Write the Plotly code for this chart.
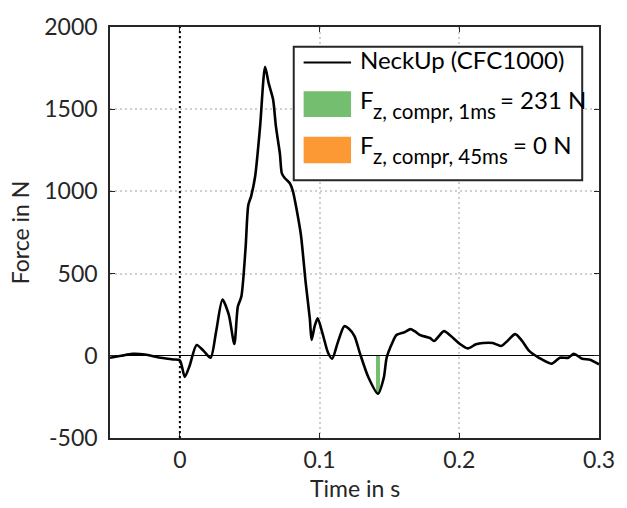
import plotly.graph_objects as go

# Upper neck axial force, CFC1000 filtered
time_s = [
    -0.050, -0.042, -0.034, -0.025, -0.015, -0.005, 0.000, 0.0035, 0.007, 0.012,
    0.017, 0.022, 0.026, 0.0305, 0.035, 0.039, 0.0415, 0.044, 0.047, 0.049,
    0.051, 0.0539, 0.0574, 0.061, 0.0635, 0.0667, 0.0688, 0.0716, 0.0730, 0.0752,
    0.0787, 0.0809, 0.0840, 0.0867, 0.090, 0.093, 0.0943, 0.0965, 0.0986, 0.102,
    0.106, 0.109, 0.113, 0.1177, 0.121, 0.125, 0.129, 0.135, 0.1418, 0.146,
    0.148, 0.152, 0.155, 0.161, 0.165, 0.168, 0.172, 0.179, 0.182, 0.189,
    0.194, 0.200, 0.206, 0.212, 0.217, 0.224, 0.230, 0.235, 0.240, 0.245,
    0.250, 0.257, 0.266, 0.272, 0.278, 0.282, 0.288, 0.2936, 0.300,
]
force_n = [
    -12, 0, 12, 8, -10, -22, -28, -128, -60, 66,
    30, -12, 150, 342, 250, 72, 300, 360, 650, 918,
    970, 1092, 1392, 1758, 1660, 1560, 1392, 1230, 1110, 1080,
    1050, 1002, 870, 732, 450, 228, 96, 180, 228, 140,
    20, -18, 80, 180, 165, 120, 12, -132, -231, -132,
    -12, 78, 126, 144, 162, 150, 126, 108, 90, 150,
    120, 75, 45, 70, 78, 78, 60, 95, 132, 90,
    30, -12, -48, -12, -12, 12, -18, -24, -52,
]

# Compression criteria (exceedance values)
crit_names = ["1ms", "45ms"]
crit_values = [231, 0]
crit_times = [0.1418, 0.1418]
crit_colors = ["#74BF6F", "#FD9934"]

x_ticks = [0, 0.1, 0.2, 0.3]
x_tick_text = ["0", "0.1", "0.2", "0.3"]
y_ticks = [-500, 0, 500, 1000, 1500, 2000]
y_tick_text = ["-500", "0", "500", "1000", "1500", "2000"]

W, H = 627, 508
M_L, M_R, M_T, M_B = 110, 22, 22, 70
PW, PH = W - M_L - M_R, H - M_T - M_B
TXT = "#262626"
FONT = "Lato"


def px(x):
    return (x - M_L) / PW


def py(y):
    return (H - M_B - y) / PH


fig = go.Figure()

for name, val, t, col in zip(crit_names, crit_values, crit_times, crit_colors):
    if val > 0:
        fig.add_trace(go.Bar(
            x=[t], y=[-val], base=0, width=0.003,
            marker=dict(color=col, line=dict(width=0)),
            showlegend=False, hoverinfo="skip",
        ))

fig.add_trace(go.Scatter(
    x=time_s, y=force_n, mode="lines",
    line=dict(color="black", width=2.6, shape="spline", smoothing=0.7),
    showlegend=False,
))

# t = 0 marker
fig.add_shape(type="line", xref="x", yref="paper", x0=0, x1=0, y0=0, y1=1,
              line=dict(color="black", width=2, dash="2px,3px"), layer="above")

# Legend box
lx0, lx1, ly0, ly1 = 296, 588, 42, 177
fig.add_shape(type="rect", xref="paper", yref="paper",
              x0=px(lx0), x1=px(lx1), y0=py(ly1), y1=py(ly0),
              line=dict(color=TXT, width=2), fillcolor="white", layer="above")
fig.add_shape(type="line", xref="paper", yref="paper",
              x0=px(306), x1=px(354), y0=py(58), y1=py(58),
              line=dict(color="black", width=2), layer="above")
for (ya, yb), col in zip([(87, 113), (133, 160)], crit_colors):
    fig.add_shape(type="rect", xref="paper", yref="paper",
                  x0=px(306), x1=px(354), y0=py(yb), y1=py(ya),
                  line=dict(width=0), fillcolor=col, layer="above")


def label(x, y, text, size=24):
    fig.add_annotation(xref="paper", yref="paper", x=px(x), y=py(y),
                       xanchor="left", yanchor="middle", text=text,
                       showarrow=False,
                       font=dict(family=FONT, size=size, color="black"))


label(361, 55, "NeckUp (CFC1000)")
for row, (name, val) in enumerate(zip(crit_names, crit_values)):
    yc = 95 + row * 46
    label(361, yc, "F")
    label(374, yc + 12, f"z, compr, {name}", size=20.5)
    xr = 503 if name == "1ms" else 516
    label(xr, yc, f"= {val} N")

# x-axis title
fig.add_annotation(xref="paper", yref="paper", x=0.5, y=py(489),
                   xanchor="center", yanchor="middle", text="Time in s",
                   showarrow=False, font=dict(family=FONT, size=23, color=TXT))

axis_common = dict(
    showline=True, mirror="ticks", linecolor=TXT, linewidth=1.5,
    ticks="inside", ticklen=5, tickcolor=TXT, tickwidth=1.2,
    showgrid=True, gridcolor="#cfcfcf", gridwidth=1.5, griddash="2px,3px",
    tickfont=dict(family=FONT, size=23, color=TXT),
)

fig.update_layout(
    width=W, height=H,
    margin=dict(l=M_L, r=M_R, t=M_T, b=M_B),
    paper_bgcolor="white", plot_bgcolor="white",
    font=dict(family=FONT, color=TXT),
    xaxis=dict(range=[-0.05, 0.3], tickvals=x_ticks, ticktext=x_tick_text,
               zeroline=False, ticklabelstandoff=1,
               **axis_common),
    yaxis=dict(range=[-500, 2000], tickvals=y_ticks, ticktext=y_tick_text,
               ticklabelstandoff=6,
               zeroline=True, zerolinecolor="black", zerolinewidth=1,
               title=dict(text="Force in N", font=dict(family=FONT, size=23, color=TXT),
                          standoff=8),
               **axis_common),
    bargap=0,
)

fig.write_html("out.html")
